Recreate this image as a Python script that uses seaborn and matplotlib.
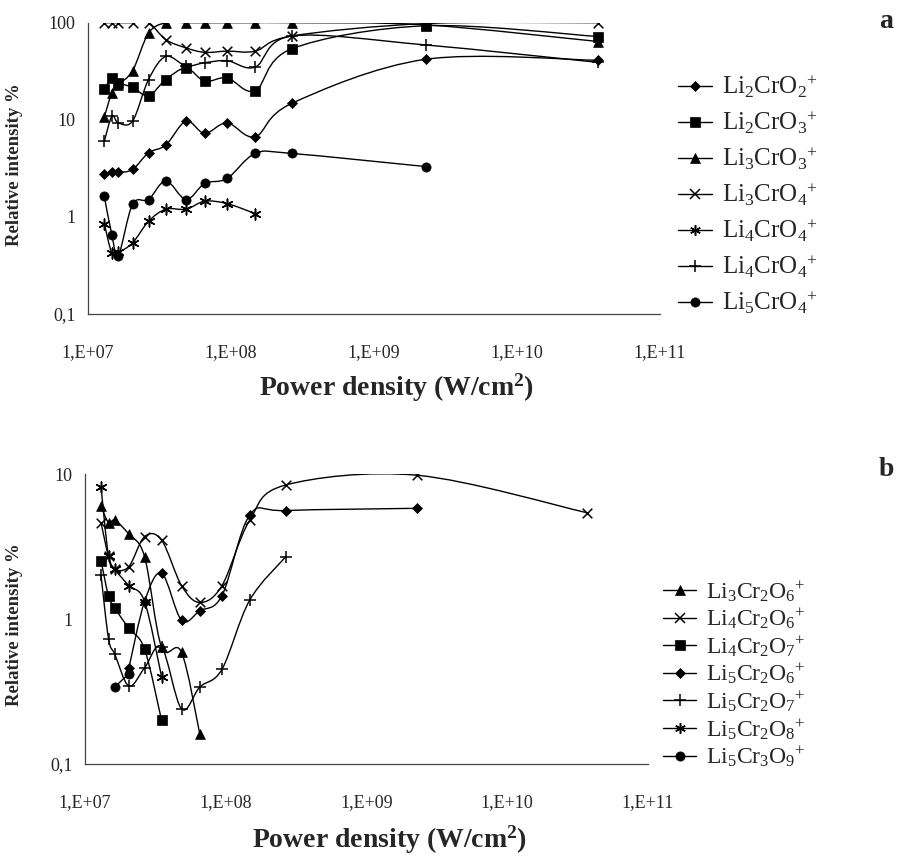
import numpy as np
import pandas as pd
import matplotlib
matplotlib.use('Agg')
import matplotlib.pyplot as plt
import seaborn as sns
from matplotlib.path import Path
from matplotlib.patches import PathPatch
from matplotlib.lines import Line2D

# power density values (W/cm2) shared by both panels
power = [1.3e7, 1.47e7, 1.63e7, 2.05e7, 2.65e7, 3.5e7, 4.85e7, 6.55e7,
         9.4e7, 1.48e8, 2.67e8, 2.3e9, 3.7e10]
nan = np.nan

# panel a
a_li2cro2 = [2.75, 2.87, 2.87, 3.08, 4.57, 5.5, 9.7, 7.24, 9.3, 6.7, 14.8, 42, 41]
a_li2cro3 = [20.6, 27, 24, 21.6, 17.7, 26, 34, 25, 27, 20, 54, 93, 72]
a_li3cro3 = [10.7, 19, 23, 32, 78, 100, 100, 100, 100, 100, 100, 95, 64]
a_li3cro4 = [100, 100, 100, 100, 100, 67, 55, 49.5, 51, 51, 73, 98, 100]
a_li4cro4_ast = [0.855, 0.42, 0.43, 0.54, 0.90, 1.2, 1.2, 1.45, 1.37, 1.08, nan, nan, nan]
a_li4cro4_plus = [6.0, 10.9, 9.3, 9.7, 26, 45, 36, 38.7, 40.6, 35, 73, 59, 39]
a_li5cro4 = [1.63, 0.65, 0.40, 1.35, 1.51, 2.35, 1.51, 2.21, 2.49, 4.5, 4.5, 3.3, nan]

# panel b
b_li3cr2o6 = [6.0, 4.6, 4.8, 3.84, 2.69, 0.64, 0.59, 0.16, nan, nan, nan, nan, nan]
b_li4cr2o6 = [4.6, 2.7, 2.2, 2.3, 3.7, 3.5, 1.7, 1.3, 1.7, 4.8, 8.4, 9.8, 5.4]
b_li4cr2o7 = [2.52, 1.44, 1.19, 0.86, 0.62, 0.2, nan, nan, nan, nan, nan, nan, nan]
b_li5cr2o6 = [nan, nan, nan, 0.46, 1.32, 2.07, 0.98, 1.14, 1.45, 5.2, 5.6, 5.8, nan]
b_li5cr2o7 = [2.0, 0.73, 0.57, 0.345, 0.46, 0.64, 0.24, 0.34, 0.45, 1.35, 2.69, nan, nan]
b_li5cr2o8 = [8.1, 2.7, 2.2, 1.7, 1.32, 0.40, nan, nan, nan, nan, nan, nan, nan]
b_li5cr3o9 = [nan, nan, 0.34, 0.42, nan, nan, nan, nan, nan, nan, nan, nan, nan]

x_ticks = [1e7, 1e8, 1e9, 1e10, 1e11]
x_ticklabels = ['1,E+07', '1,E+08', '1,E+09', '1,E+10', '1,E+11']

sns.set_theme(style='white')
plt.rcParams['font.family'] = ['Liberation Serif', 'DejaVu Serif']
plt.rcParams['mathtext.fontset'] = 'custom'
plt.rcParams['mathtext.rm'] = 'Liberation Serif'
plt.rcParams['mathtext.it'] = 'Liberation Serif:italic'
plt.rcParams['mathtext.bf'] = 'Liberation Serif:bold'

# marker styles: (marker, size, linewidth)
MK = {
    'diamond': ('D', 26, 0.5),
    'square': ('s', 50, 0.5),
    'triangle': ('^', 50, 0.5),
    'x': ('x', 48, 1.1),
    'ast': ((6, 2, 0), 60, 1.1),
    'plus': ('+', 70, 1.1),
    'circle': ('o', 44, 0.5),
}


def smooth_line(ax, xs, ys):
    # Excel-like smoothed line drawn as bezier in the log-log display space
    pts = np.array([(np.log10(a), np.log10(b)) for a, b in zip(xs, ys) if not np.isnan(b)])
    n = len(pts)
    verts = [pts[0]]
    codes = [Path.MOVETO]
    for i in range(n - 1):
        p0 = pts[i - 1] if i > 0 else pts[i]
        p3 = pts[i + 2] if i + 2 < n else pts[i + 1]
        c1 = pts[i] + (pts[i + 1] - p0) / 6
        c2 = pts[i + 1] - (p3 - pts[i]) / 6
        verts += [c1, c2, pts[i + 1]]
        codes += [Path.CURVE4] * 3
    verts = 10 ** np.array(verts)
    ax.add_patch(PathPatch(Path(verts, codes), fill=False, edgecolor='black',
                           lw=1.0, zorder=2))


def draw_series(ax, ys, kind):
    df = pd.DataFrame({'x': power, 'y': ys}).dropna()
    smooth_line(ax, df['x'].values, df['y'].values)
    m, s, lw = MK[kind]
    sns.scatterplot(data=df, x='x', y='y', marker=m, s=s, color='black',
                    edgecolor='black', linewidth=lw, ax=ax, zorder=3, legend=False)


def handle(kind):
    m, s, lw = MK[kind]
    return Line2D([], [], color='black', lw=1.0, marker=m, markersize=np.sqrt(s),
                  markeredgewidth=lw, markerfacecolor='black', markeredgecolor='black')


def style_axes(ax, ylim, yticks, ylabels):
    ax.set_xscale('log')
    ax.set_yscale('log')
    ax.set_xlim(1e7, 1e11)
    ax.set_ylim(*ylim)
    ax.set_xticks(x_ticks, x_ticklabels)
    ax.set_yticks(yticks, ylabels)
    ax.minorticks_off()
    ax.set_xlabel('')
    ax.set_ylabel('')
    for sp in ['top', 'right']:
        ax.spines[sp].set_visible(False)
    for sp in ['left', 'bottom']:
        ax.spines[sp].set_color('#444444')
        ax.spines[sp].set_linewidth(0.9)
    ax.tick_params(axis='x', direction='out', length=5, width=0.9, color='#444444',
                   pad=17, labelsize=13)
    ax.tick_params(axis='y', direction='out', length=5, width=0.9, color='#444444',
                   pad=4, labelsize=13)


fig = plt.figure(figsize=(8.98, 8.56), dpi=100)
W, H = 898, 856
ax1 = fig.add_axes([88 / W, 1 - 314 / H, 572 / W, 291.3 / H])
ax2 = fig.add_axes([85 / W, 1 - 764 / H, 563 / W, 290 / H])

top = [(a_li2cro2, 'diamond', r'Li$_\mathrm{2}$CrO$_\mathrm{2}$$^\mathrm{+}$'),
       (a_li2cro3, 'square', r'Li$_\mathrm{2}$CrO$_\mathrm{3}$$^\mathrm{+}$'),
       (a_li3cro3, 'triangle', r'Li$_\mathrm{3}$CrO$_\mathrm{3}$$^\mathrm{+}$'),
       (a_li3cro4, 'x', r'Li$_\mathrm{3}$CrO$_\mathrm{4}$$^\mathrm{+}$'),
       (a_li4cro4_ast, 'ast', r'Li$_\mathrm{4}$CrO$_\mathrm{4}$$^\mathrm{+}$'),
       (a_li4cro4_plus, 'plus', r'Li$_\mathrm{4}$CrO$_\mathrm{4}$$^\mathrm{+}$'),
       (a_li5cro4, 'circle', r'Li$_\mathrm{5}$CrO$_\mathrm{4}$$^\mathrm{+}$')]

bottom = [(b_li3cr2o6, 'triangle', r'Li$_\mathrm{3}$Cr$_\mathrm{2}$O$_\mathrm{6}$$^\mathrm{+}$'),
          (b_li4cr2o6, 'x', r'Li$_\mathrm{4}$Cr$_\mathrm{2}$O$_\mathrm{6}$$^\mathrm{+}$'),
          (b_li4cr2o7, 'square', r'Li$_\mathrm{4}$Cr$_\mathrm{2}$O$_\mathrm{7}$$^\mathrm{+}$'),
          (b_li5cr2o6, 'diamond', r'Li$_\mathrm{5}$Cr$_\mathrm{2}$O$_\mathrm{6}$$^\mathrm{+}$'),
          (b_li5cr2o7, 'plus', r'Li$_\mathrm{5}$Cr$_\mathrm{2}$O$_\mathrm{7}$$^\mathrm{+}$'),
          (b_li5cr2o8, 'ast', r'Li$_\mathrm{5}$Cr$_\mathrm{2}$O$_\mathrm{8}$$^\mathrm{+}$'),
          (b_li5cr3o9, 'circle', r'Li$_\mathrm{5}$Cr$_\mathrm{3}$O$_\mathrm{9}$$^\mathrm{+}$')]

for ys, kind, lab in top:
    draw_series(ax1, ys, kind)
for ys, kind, lab in bottom:
    draw_series(ax2, ys, kind)

style_axes(ax1, (0.1, 100), [0.1, 1, 10, 100], ['0,1', '1', '10', '100'])
style_axes(ax2, (0.1, 10), [0.1, 1, 10], ['0,1', '1', '10'])

leg1 = ax1.legend([handle(k) for _, k, _ in top], [l for _, _, l in top],
                  loc='center left', bbox_to_anchor=(678 / W, 1 - 195 / H),
                  bbox_transform=fig.transFigure, frameon=False, fontsize=18,
                  borderpad=0, borderaxespad=0, handlelength=1.35,
                  handletextpad=0.4, labelspacing=0.38)
leg2 = ax2.legend([handle(k) for _, k, _ in bottom], [l for _, _, l in bottom],
                  loc='center left', bbox_to_anchor=(663 / W, 1 - 674 / H),
                  bbox_transform=fig.transFigure, frameon=False, fontsize=17,
                  borderpad=0, borderaxespad=0, handlelength=1.4,
                  handletextpad=0.4, labelspacing=0.12)

for yc in [165, 625]:
    fig.text(15 / W, 1 - yc / H, 'Relative intensity %', rotation=90, ha='center',
             va='center', fontsize=13.5, fontweight='bold')
for xc, yc in [(397, 388), (390, 840)]:
    fig.text(xc / W, 1 - yc / H, r'Power density (W/cm$^\mathbf{2}$)', ha='center',
             va='center', fontsize=20, fontweight='bold')
fig.text(886 / W, 1 - 22 / H, 'a', ha='center', va='center', fontsize=20, fontweight='bold')
fig.text(886 / W, 1 - 470 / H, 'b', ha='center', va='center', fontsize=20, fontweight='bold')

fig.savefig('out.png', dpi=100)
